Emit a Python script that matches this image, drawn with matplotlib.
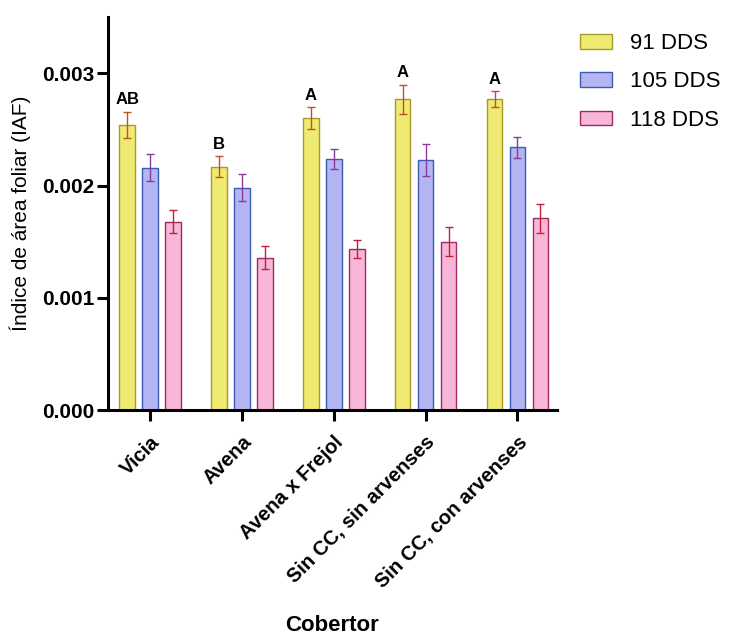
import numpy as np
import matplotlib.pyplot as plt

plt.rcParams['font.family'] = ['Liberation Sans', 'DejaVu Sans']

# data
categories = ['Vicia', 'Avena', 'Avena x Frejol', 'Sin CC, sin arvenses', 'Sin CC, con arvenses']
series = ['91 DDS', '105 DDS', '118 DDS']
vals_91 = [0.00254, 0.00217, 0.00260, 0.00277, 0.00277]
vals_105 = [0.00216, 0.00198, 0.00224, 0.00223, 0.00234]
vals_118 = [0.00168, 0.00136, 0.00144, 0.00150, 0.00171]
err_91 = [0.00012, 0.00009, 0.00010, 0.00013, 0.00007]
err_105 = [0.00012, 0.00012, 0.00009, 0.00014, 0.00009]
err_118 = [0.00010, 0.00010, 0.00008, 0.00013, 0.00013]
letters = ['AB', 'B', 'A', 'A', 'A']

fills = ['#eeea72', '#b3b6f2', '#f9b6d9']
edges = ['#a99a2a', '#3a5bb0', '#9c2a5e']
errcols = ['#c0502a', '#8a3a9a', '#c0203a']

fig = plt.figure(figsize=(7.29, 6.37), dpi=100)
ax = fig.add_axes([0.148, 0.356, 0.616, 0.617])

x = np.arange(len(categories))
w = 0.17
step = 0.25
allv = [vals_91, vals_105, vals_118]
alle = [err_91, err_105, err_118]
for i in range(3):
    ax.bar(x + (i - 1) * step, allv[i], w, color=fills[i], edgecolor=edges[i],
           linewidth=1.0, label=series[i])
    ax.errorbar(x + (i - 1) * step, allv[i], yerr=alle[i], fmt='none',
                ecolor=errcols[i], elinewidth=1.0, capsize=3, capthick=1.0)

for xi, v, e, t in zip(x, vals_91, err_91, letters):
    ax.text(xi - step, v + e + 0.00004, t, ha='center', va='bottom',
            fontsize=12, fontweight='bold')

ax.set_xlim(-0.46, 4.43)
ax.set_ylim(0, 0.0035)
ax.set_yticks([0, 0.001, 0.002, 0.003])
ax.set_yticklabels(['0.000', '0.001', '0.002', '0.003'], fontweight='bold', fontsize=15)
ax.set_xticks(x)
ax.set_xticklabels(categories, rotation=45, ha='right', rotation_mode='anchor',
                   fontweight='bold', fontsize=14.5)
ax.set_ylabel('Índice de área foliar (IAF)', fontsize=15, labelpad=8)
ax.set_xlabel('Cobertor', fontsize=16, fontweight='bold', labelpad=17)

for s in ['top', 'right']:
    ax.spines[s].set_visible(False)
for s in ['left', 'bottom']:
    ax.spines[s].set_linewidth(2.2)
ax.tick_params(width=2.2, length=8)
ax.tick_params(axis='x', pad=8)
ax.tick_params(axis='y', pad=2)

fig.legend(loc='upper left', bbox_to_anchor=(571 / 729, 0.962), borderaxespad=0,
           frameon=False, fontsize=16, handlelength=1.45, handleheight=0.65,
           handletextpad=0.8, labelspacing=0.78)

fig.savefig('out.png', dpi=100)
